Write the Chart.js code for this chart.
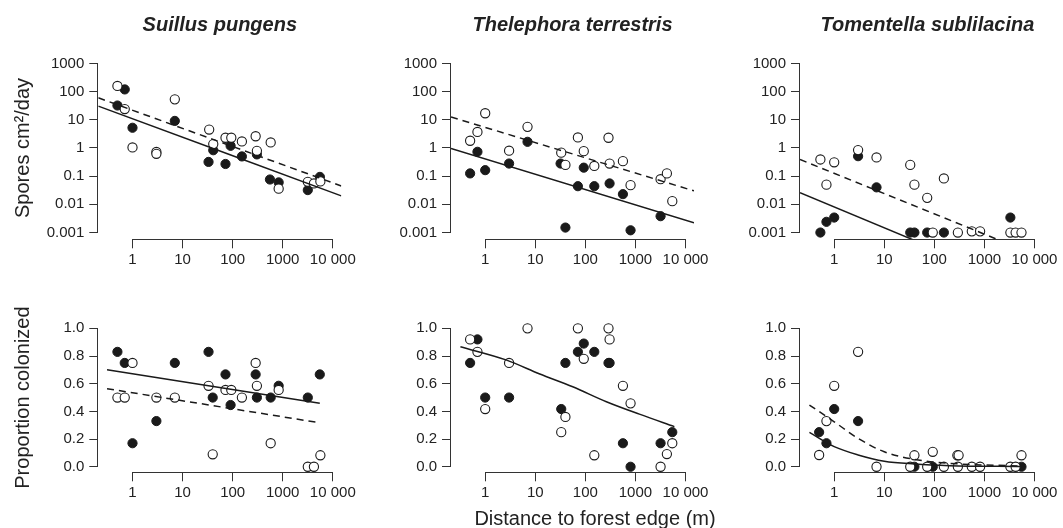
<!DOCTYPE html>
<html>
<head>
<meta charset="utf-8">
<title>Spore deposition and colonization vs distance to forest edge</title>
<script src="https://cdn.jsdelivr.net/npm/chart.js@4.4.1/dist/chart.umd.min.js"></script>
<style>
  html, body { margin: 0; padding: 0; background: #fff; }
  #wrap { position: relative; width: 1063px; height: 528px; }
  #wrap canvas { position: absolute; left: 0; top: 0; }
</style>
</head>
<body>
<div id="wrap">
  <canvas id="c1" width="1063" height="528"></canvas>
  <canvas id="c2" width="1063" height="528"></canvas>
  <canvas id="c3" width="1063" height="528"></canvas>
  <canvas id="c4" width="1063" height="528"></canvas>
  <canvas id="c5" width="1063" height="528"></canvas>
  <canvas id="c6" width="1063" height="528"></canvas>
</div>
<script>
// ---- data ----
var species = ['Suillus pungens', 'Thelephora terrestris', 'Tomentella sublilacina'];
var yTitles = ['Spores cm\u00b2/day', 'Proportion colonized'];
var xTitle = 'Distance to forest edge (m)';

var xTicks = [1, 10, 100, 1000, 10000];
var xTickLabels = ['1', '10', '100', '1000', '10 000'];
var sporeTicks = [0.001, 0.01, 0.1, 1, 10, 100, 1000];
var sporeTickLabels = ['0.001', '0.01', '0.1', '1', '10', '100', '1000'];
var propTicks = [0, 0.2, 0.4, 0.6, 0.8, 1.0];
var propTickLabels = ['0.0', '0.2', '0.4', '0.6', '0.8', '1.0'];

// [distance m, value] pairs; filled = one treatment, open = the other
var suillusSporeFilled = [[0.5, 32], [0.7, 119], [1, 5.2], [7, 9.1], [33, 0.32], [41, 0.83], [72, 0.27], [91, 1.19],
  [153, 0.5], [305, 0.59], [556, 0.076], [830, 0.06], [3170, 0.032], [5530, 0.094]];
var suillusSporeOpen = [[0.5, 158], [0.7, 24], [1, 1.04], [3, 0.72], [3, 0.62], [7, 53], [34, 4.5], [41, 1.37], [72, 2.3],
  [94, 2.3], [153, 1.7], [288, 2.6], [305, 0.79], [575, 1.57], [830, 0.036], [3170, 0.063], [4200, 0.055], [5650, 0.065]];
var suillusSporeSolid = [[0.2075, 30.5], [14791, 0.02]];
var suillusSporeDashed = [[0.2075, 60], [14791, 0.045]];

var thelephoraSporeFilled = [[0.5, 0.125], [0.7, 0.73], [1, 0.163], [3, 0.28], [7, 1.65], [32, 0.28], [40, 0.0015],
  [71, 0.044], [93, 0.2], [151, 0.044], [305, 0.055], [563, 0.023], [800, 0.0012], [3180, 0.0038]];
var thelephoraSporeOpen = [[0.5, 1.8], [0.7, 3.7], [1, 17], [3, 0.8], [7, 5.6], [33, 0.68], [40, 0.25], [71, 2.36],
  [93, 0.77], [151, 0.23], [290, 2.3], [305, 0.28], [563, 0.34], [800, 0.048], [3180, 0.078], [4250, 0.125], [5450, 0.013]];
var thelephoraSporeSolid = [[0.2075, 0.96], [14791, 0.0022]];
var thelephoraSporeDashed = [[0.2075, 12.6], [14791, 0.03]];

var tomentellaSporeFilled = [[0.53, 0.001], [0.7, 0.0024], [1, 0.0034], [3, 0.51], [7, 0.04], [33, 0.001], [40, 0.001],
  [72, 0.001], [155, 0.001], [3300, 0.0034]];
var tomentellaSporeOpen = [[0.53, 0.39], [0.7, 0.05], [1, 0.31], [3, 0.84], [7, 0.46], [33, 0.25], [40, 0.05], [72, 0.017],
  [155, 0.083], [93, 0.001], [295, 0.001], [560, 0.0011], [820, 0.0011], [3300, 0.001], [4200, 0.001], [5500, 0.001]];
var tomentellaSporeSolid = [[0.2075, 0.026], [14791, 0.0000066]];
var tomentellaSporeDashed = [[0.2075, 0.39], [14791, 0.000126]];

var suillusPropFilled = [[0.5, 0.83], [0.7, 0.75], [1, 0.17], [3, 0.33], [7, 0.75], [33, 0.83], [40, 0.5], [72, 0.667],
  [91, 0.446], [288, 0.667], [305, 0.5], [575, 0.5], [830, 0.585], [3170, 0.5], [5500, 0.667]];
var suillusPropOpen = [[0.5, 0.5], [0.7, 0.5], [1, 0.75], [3, 0.5], [7, 0.5], [33, 0.585], [40, 0.09], [72, 0.555],
  [94, 0.555], [153, 0.5], [288, 0.75], [305, 0.585], [575, 0.17], [830, 0.555], [3170, 0], [4200, 0], [5650, 0.083]];
var suillusPropSolid = [[0.31, 0.70], [5500, 0.458]];
var suillusPropDashed = [[0.31, 0.564], [5500, 0.318]];

var thelephoraPropFilled = [[0.5, 0.75], [0.7, 0.92], [1, 0.5], [3, 0.5], [33, 0.417], [40, 0.75], [71, 0.83], [93, 0.89],
  [151, 0.83], [290, 0.75], [305, 0.75], [563, 0.17], [800, 0], [3180, 0.17], [5450, 0.25]];
var thelephoraPropOpen = [[0.5, 0.92], [0.7, 0.83], [1, 0.417], [3, 0.75], [7, 1.0], [33, 0.25], [40, 0.36], [71, 1.0],
  [93, 0.78], [151, 0.083], [290, 1.0], [305, 0.92], [563, 0.585], [800, 0.458], [3180, 0], [4250, 0.092], [5450, 0.17]];
var thelephoraPropSolid = [[0.32, 0.867], [2.6, 0.772], [12.3, 0.67], [56, 0.578], [263, 0.47], [1200, 0.38], [6000, 0.29]];

var tomentellaPropFilled = [[0.5, 0.25], [0.7, 0.17], [1, 0.417], [3, 0.33], [40, 0], [93, 0], [5500, 0]];
var tomentellaPropOpen = [[0.5, 0.085], [0.7, 0.33], [1, 0.585], [3, 0.83], [7, 0], [33, 0], [40, 0.083], [72, 0],
  [93, 0.108], [155, 0], [288, 0.083], [305, 0.083], [295, 0], [560, 0], [820, 0], [3300, 0], [4200, 0], [5500, 0.083]];
var tomentellaPropSolid = [[0.32, 0.248], [1, 0.145], [3, 0.085], [10, 0.04], [40, 0.02], [200, 0.008], [5500, 0.002]];
var tomentellaPropDashed = [[0.32, 0.446], [1, 0.325], [3, 0.205], [10, 0.108], [40, 0.053], [200, 0.025], [5500, 0.005]];

// ---- layout ----
var FONT = '"Liberation Sans", Arial, Helvetica, sans-serif';
var INK = '#1a1a1a';
var xMin = 0.2075, xMax = 14791;              // log axis incl. R-style 4% margins
var sporeMin = Math.pow(10, -3.24), sporeMax = Math.pow(10, 3.24);
var colLeft = [98.3, 451, 800];
var plotWidth = 243;
var rowBox = [{ top: 56.6, bottom: 239.3 }, { top: 322.8, bottom: 472.3 }];

function toPoints(pairs) {
  return pairs.map(function (p) { return { x: p[0], y: p[1] }; });
}

// R-like axis line: only spans first to last tick
var rAxisLines = {
  id: 'rAxisLines',
  afterDraw: function (chart) {
    var ctx = chart.ctx, a = chart.chartArea;
    var xs = chart.scales.x, ys = chart.scales.y;
    var yt = ys.ticks;
    ctx.save();
    ctx.strokeStyle = '#333';
    ctx.lineWidth = 1;
    ctx.beginPath();
    ctx.moveTo(xs.getPixelForValue(xTicks[0]), Math.round(a.bottom) + 0.5);
    ctx.lineTo(xs.getPixelForValue(xTicks[xTicks.length - 1]), Math.round(a.bottom) + 0.5);
    ctx.moveTo(Math.round(a.left) - 0.5, ys.getPixelForValue(yt[0].value));
    ctx.lineTo(Math.round(a.left) - 0.5, ys.getPixelForValue(yt[yt.length - 1].value));
    ctx.stroke();
    ctx.restore();
  }
};

var textFonts = {
  title: 'italic bold 20px ' + FONT,
  label: '20px ' + FONT
};

var panelText = {
  id: 'panelText',
  afterDraw: function (chart, args, opts) {
    var a = chart.chartArea, ctx = chart.ctx;
    (opts.items || []).forEach(function (it) {
      ctx.save();
      ctx.font = textFonts[it.kind];
      ctx.fillStyle = '#222';
      ctx.textAlign = 'center';
      ctx.textBaseline = 'middle';
      ctx.fillText(it.text, (a.left + a.right) / 2 + (it.dx || 0), it.y);
      ctx.restore();
    });
  }
};

function lineSet(pairs, dash) {
  return {
    data: toPoints(pairs),
    showLine: true,
    pointRadius: 0,
    borderColor: INK,
    borderWidth: 1.5,
    borderDash: dash,
    cubicInterpolationMode: 'monotone',
    fill: false
  };
}

function makePanel(canvasId, col, row, d, texts) {
  var datasets = [];
  if (d.solid) datasets.push(lineSet(d.solid, []));
  if (d.dashed) datasets.push(lineSet(d.dashed, [7, 5]));
  datasets.push({ data: toPoints(d.open), backgroundColor: '#fff', borderColor: INK, borderWidth: 1.1, pointRadius: 4.6, clip: false });
  datasets.push({ data: toPoints(d.filled), backgroundColor: INK, borderColor: INK, borderWidth: 1, pointRadius: 4.6, clip: false });

  var isTop = row === 0;
  var yTickVals = isTop ? sporeTicks : propTicks;
  var yTickLabs = isTop ? sporeTickLabels : propTickLabels;

  new Chart(document.getElementById(canvasId), {
    type: 'scatter',
    data: { datasets: datasets },
    options: {
      responsive: false,
      animation: false,
      events: [],
      layout: { padding: { left: 0, top: rowBox[row].top, right: 1063 - colLeft[col] - plotWidth, bottom: 0 } },
      plugins: {
        legend: { display: false },
        tooltip: { enabled: false },
        panelText: { items: texts }
      },
      scales: {
        x: {
          type: 'logarithmic',
          min: xMin,
          max: xMax,
          bounds: 'data',
          afterBuildTicks: function (s) { s.ticks = xTicks.map(function (v) { return { value: v }; }); },
          afterFit: function (s) { s.height = 528 - rowBox[row].bottom; },
          grid: { drawOnChartArea: false, tickLength: 9, color: '#333', lineWidth: 1 },
          border: { display: false },
          ticks: {
            autoSkip: false, maxRotation: 0, minRotation: 0, padding: 3, color: '#222',
            font: { family: FONT, size: 15 },
            callback: function (v, i) { return xTickLabels[i]; }
          }
        },
        y: {
          type: isTop ? 'logarithmic' : 'linear',
          min: isTop ? sporeMin : -0.04,
          max: isTop ? sporeMax : 1.04,
          bounds: 'data',
          afterBuildTicks: function (s) { s.ticks = yTickVals.map(function (v) { return { value: v }; }); },
          afterFit: function (s) { s.width = colLeft[col]; },
          grid: { drawOnChartArea: false, tickLength: 9, color: '#333', lineWidth: 1 },
          border: { display: false },
          title: {
            display: col === 0,
            text: yTitles[row],
            color: '#222',
            font: { family: FONT, size: 20 },
            padding: { top: 11.5, bottom: 0 }
          },
          ticks: {
            autoSkip: false, padding: 5, color: '#222',
            font: { family: FONT, size: 15 },
            callback: function (v, i) { return yTickLabs[i]; }
          }
        }
      }
    },
    plugins: [rAxisLines, panelText]
  });
}

makePanel('c1', 0, 0, { filled: suillusSporeFilled, open: suillusSporeOpen, solid: suillusSporeSolid, dashed: suillusSporeDashed },
  [{ text: species[0], kind: 'title', y: 25 }]);
makePanel('c2', 1, 0, { filled: thelephoraSporeFilled, open: thelephoraSporeOpen, solid: thelephoraSporeSolid, dashed: thelephoraSporeDashed },
  [{ text: species[1], kind: 'title', y: 25 }]);
makePanel('c3', 2, 0, { filled: tomentellaSporeFilled, open: tomentellaSporeOpen, solid: tomentellaSporeSolid, dashed: tomentellaSporeDashed },
  [{ text: species[2], kind: 'title', y: 25, dx: 6 }]);
makePanel('c4', 0, 1, { filled: suillusPropFilled, open: suillusPropOpen, solid: suillusPropSolid, dashed: suillusPropDashed }, []);
makePanel('c5', 1, 1, { filled: thelephoraPropFilled, open: thelephoraPropOpen, solid: thelephoraPropSolid },
  [{ text: xTitle, kind: 'label', y: 519, dx: 22.5 }]);
makePanel('c6', 2, 1, { filled: tomentellaPropFilled, open: tomentellaPropOpen, solid: tomentellaPropSolid, dashed: tomentellaPropDashed }, []);
</script>
</body>
</html>
